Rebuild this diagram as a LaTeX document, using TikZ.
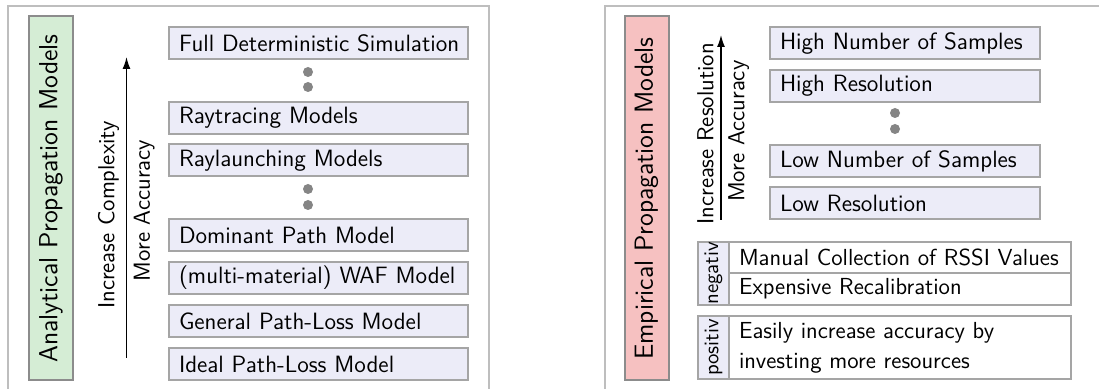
\documentclass[tikz,border=0pt]{standalone}
\usepackage{fontspec}
\usetikzlibrary{arrows.meta}
\definecolor{framegray}{HTML}{BEBEBE}
\definecolor{boxgray}{HTML}{A5A5A5}
\definecolor{boxfill}{HTML}{ECECF8}
\definecolor{anafill}{HTML}{D5EDD5}
\definecolor{empfill}{HTML}{F6C1C1}
\definecolor{dotgray}{HTML}{858585}
\begin{document}
\begin{tikzpicture}[x=0.5pt,y=-0.5pt,
	panelframe/.style={draw=framegray,line width=0.8pt},
	titlebox/.style={draw=gray!90,fill=#1,line width=1pt,rotate=90,minimum width=182pt,minimum height=22pt,inner sep=0pt,font=\sffamily\fontsize{13.1}{15}\selectfont},
	modelbox/.style={draw=boxgray,fill=boxfill,line width=1pt,minimum height=16pt,inner xsep=5pt,inner ysep=0pt,text width=#1,align=left,font=\sffamily\fontsize{11.8}{14}\selectfont},
	tagbox/.style={draw=boxgray,fill=boxfill,line width=1pt,rotate=90,minimum width=31.5pt,minimum height=15.5pt,inner sep=0pt,font=\sffamily\fontsize{10.4}{12}\selectfont},
	rowbox/.style={draw=boxgray,fill=white,line width=1pt,inner xsep=5pt,inner ysep=0pt,text width=161pt,align=left,font=\sffamily\fontsize{11.6}{15}\selectfont},
	dotmark/.style={circle,fill=dotgray,minimum size=5pt,inner sep=0pt},
	trend/.style={line width=0.7pt,-{Latex[length=6pt,width=4pt]}},
	trendlabel/.style={sloped,font=\sffamily\fontsize{11.6}{13}\selectfont}]
	\clip (0,0) rectangle (1099,389);
	%% analytical models
	\draw[panelframe] (8,395) -- (8,6) -- (489,6) -- (489,395);
	\node[titlebox=anafill] (ana) at (51,198.5) {Analytical Propagation Models};
	\coordinate (abot) at (126.5,358);
	\coordinate (atop) at (126.5,57);
	\draw[trend] (abot) -- (atop)
		node[trendlabel,pos=0.475,above] {Increase Complexity}
		node[trendlabel,pos=0.49,below] {More Accuracy};
	\node[modelbox=139.5pt] (fds) at (318.5,43) {\mbox{Full Deterministic Simulation}};
	\node[dotmark] (ad1) at (308,72) {};
	\node[dotmark] (ad2) at (308,87) {};
	\node[modelbox=139.5pt] (rtm) at (318.5,118) {Raytracing Models};
	\node[modelbox=139.5pt] (rlm) at (318.5,160.5) {Raylaunching Models};
	\node[dotmark] (ad3) at (308,189) {};
	\node[dotmark] (ad4) at (308,205) {};
	\node[modelbox=139.5pt] (dpm) at (318.5,235.5) {Dominant Path Model};
	\node[modelbox=139.5pt] (waf) at (318.5,278) {\mbox{(multi-material) WAF Model}};
	\node[modelbox=139.5pt] (gpl) at (318.5,321) {General Path-Loss Model};
	\node[modelbox=139.5pt] (ipl) at (318.5,364) {Ideal Path-Loss Model};
	%% empirical models
	\draw[panelframe] (605,395) -- (605,6) -- (1110,6);
	\node[titlebox=empfill] (emp) at (646.5,198.5) {Empirical Propagation Models};
	\coordinate (ebot) at (721,220);
	\coordinate (etop) at (721,35);
	\draw[trend] (ebot) -- (etop)
		node[trendlabel,pos=0.465,above] {Increase Resolution}
		node[trendlabel,pos=0.48,below] {More Accuracy};
	\node[modelbox=125pt] (hns) at (905,43) {High Number of Samples};
	\node[modelbox=125pt] (hres) at (905,86) {High Resolution};
	\node[dotmark] (ed1) at (895,113) {};
	\node[dotmark] (ed2) at (895,129) {};
	\node[modelbox=125pt] (lns) at (905,161) {Low Number of Samples};
	\node[modelbox=125pt] (lres) at (905,203) {Low Resolution};
	%% pros and cons
	\node[tagbox] (negtag) at (713.5,273.5) {negativ};
	\node[rowbox,minimum height=15.5pt] (manual) at (900,257.5) {\mbox{Manual Collection of RSSI Values}};
	\node[rowbox,minimum height=16pt] (recal) at (900,289) {Expensive Recalibration};
	\node[tagbox] (postag) at (713.5,347.5) {positiv};
	\node[rowbox,minimum height=31.5pt] (invest) at (900,347.5) {Easily increase accuracy by\\investing more resources};
\end{tikzpicture}
\end{document}
